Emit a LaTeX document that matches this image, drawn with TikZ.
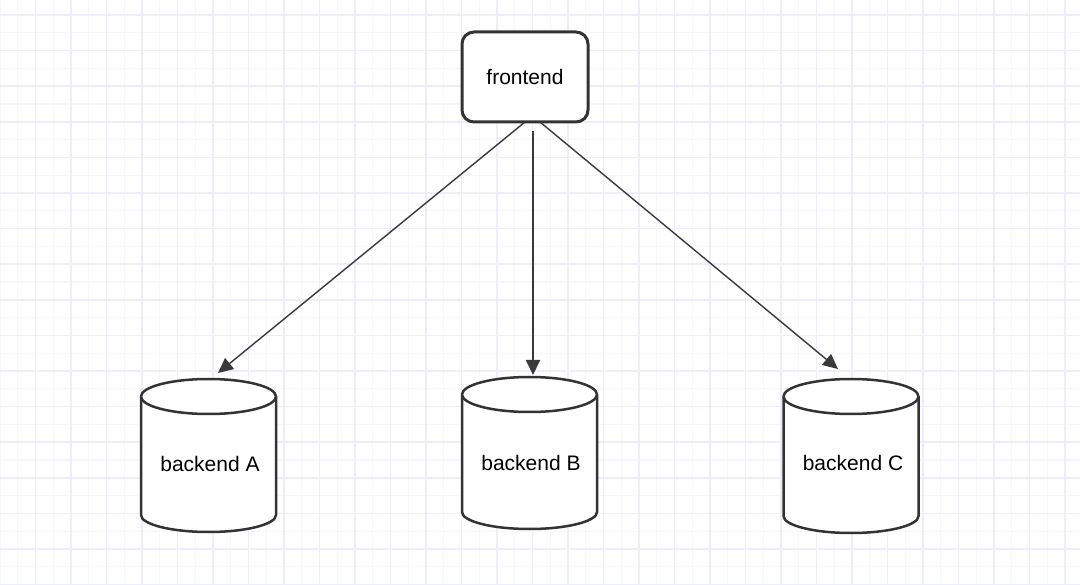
\documentclass[tikz,border=0pt]{standalone}
\usepackage{fontspec}
\setmainfont{Liberation Sans}
\usetikzlibrary{arrows.meta}
\definecolor{minorgrid}{HTML}{F6F6FF}
\definecolor{majorgrid}{HTML}{EDEDFD}
\definecolor{stroke}{HTML}{333333}
\definecolor{arrowcol}{HTML}{3A3A3A}
\newcommand{\dbcyl}[3]{% cx, top, bottom
  \filldraw[cylline] (#1-67.5,#2+17.5) -- (#1-67.5,#3-17)
    arc[start angle=180,end angle=360,x radius=67.5pt,y radius=17pt]
    -- (#1+67.5,#2+17.5)
    arc[start angle=0,end angle=180,x radius=67.5pt,y radius=17.5pt] -- cycle;
  \draw[cylline] (#1-67.5,#2+17.5)
    arc[start angle=180,end angle=360,x radius=67.5pt,y radius=17.5pt];
}
\begin{document}
\begin{tikzpicture}[x=1pt,y=-1pt,
  minorline/.style={draw=minorgrid,line width=1.2pt},
  majorline/.style={draw=majorgrid,line width=1.5pt},
  cylline/.style={draw=stroke,line width=2.5pt,fill=white},
  febox/.style={draw=stroke,line width=3pt,fill=white,rounded corners=12pt,
    minimum width=126pt,minimum height=90pt,font=\fontsize{21}{24}\selectfont},
  label/.style={font=\fontsize{21}{24}\selectfont,text=black},
  conn/.style={draw=arrowcol,line width=1.4pt,-{Triangle[length=15pt,width=14pt]}}]
\fill[white] (0,0) rectangle (1080,585);
\useasboundingbox (0,0) rectangle (1080,585);
% grid
\foreach \i in {0,...,61} \draw[minorline] (\i*17.75,0) -- (\i*17.75,585);
\foreach \j in {-1,...,32} \draw[minorline] (0,15+\j*17.8) -- (1080,15+\j*17.8);
\foreach \i in {1,...,30} \draw[majorline] (\i*35.5,0) -- (\i*35.5,585);
\foreach \j in {0,...,16} \draw[majorline] (0,15+\j*35.6) -- (1080,15+\j*35.6);
% frontend
\node[febox] (fe) at (525,77) {frontend};
% backends
\dbcyl{208.5}{379}{532}
\dbcyl{529.5}{377}{529}
\dbcyl{851}{379}{533}
\node[label] (bA) at (210,464) {backend A};
\node[label] (bB) at (531,463) {backend B};
\node[label] (bC) at (853,463) {backend C};
% connector ends
\coordinate (s1) at (525,122);
\coordinate (s2) at (533,131);
\coordinate (s3) at (540,122);
\coordinate (tA) at (218,373);
\coordinate (tB) at (533,375);
\coordinate (tC) at (838,369);
\draw[conn] (s1) -- (tA);
\draw[conn,line width=1.9pt] (s2) -- (tB);
\draw[conn] (s3) -- (tC);
\end{tikzpicture}
\end{document}
